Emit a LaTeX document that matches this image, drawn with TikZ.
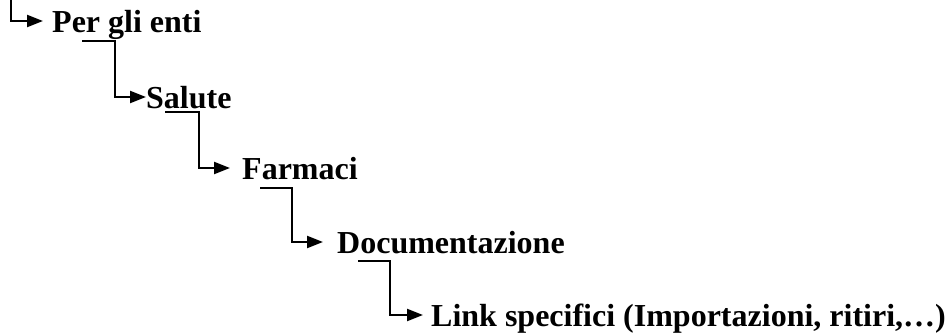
\documentclass[tikz,border=0pt]{standalone}
\usepackage{fontspec}
\setmainfont{Liberation Serif}
\usetikzlibrary{arrows.meta}
\begin{document}
\begin{tikzpicture}[x=1pt,y=-1pt,
  lbl/.style={anchor=base west,inner sep=0pt,text height=22pt,text depth=0pt,
    font=\fontsize{32}{36}\selectfont\bfseries},
  conn/.style={line width=2.2pt,-{Triangle[length=16pt,width=12pt]}}]
\useasboundingbox (0,0) rectangle (947,333);
\node[lbl] (n1) at (52,32) {Per gli enti};
\node[lbl] (n2) at (146,108) {Salute};
\node[lbl] (n3) at (242,179) {Farmaci};
\node[lbl] (n4) at (337,253) {Documentazione};
\node[lbl] (n5) at (431,326) {Link specifici (Importazioni, ritiri,…)};
\coordinate (t0) at (11,-2);
\coordinate (u1) at (82,41);  \coordinate (k1) at (115,41);
\coordinate (u2) at (165,112); \coordinate (k2) at (199,112);
\coordinate (u3) at (260,188); \coordinate (k3) at (292,188);
\coordinate (u4) at (358,261); \coordinate (k4) at (390,261);
\draw[conn,shorten >=9pt] (t0) |- (n1.west);
\draw[conn,shorten >=0pt] (u1) -- (k1) |- (n2.west);
\draw[conn,shorten >=12pt] (u2) -- (k2) |- (n3.west);
\draw[conn,shorten >=14pt] (u3) -- (k3) |- (n4.west);
\draw[conn,shorten >=8pt] (u4) -- (k4) |- (n5.west);
\end{tikzpicture}
\end{document}
